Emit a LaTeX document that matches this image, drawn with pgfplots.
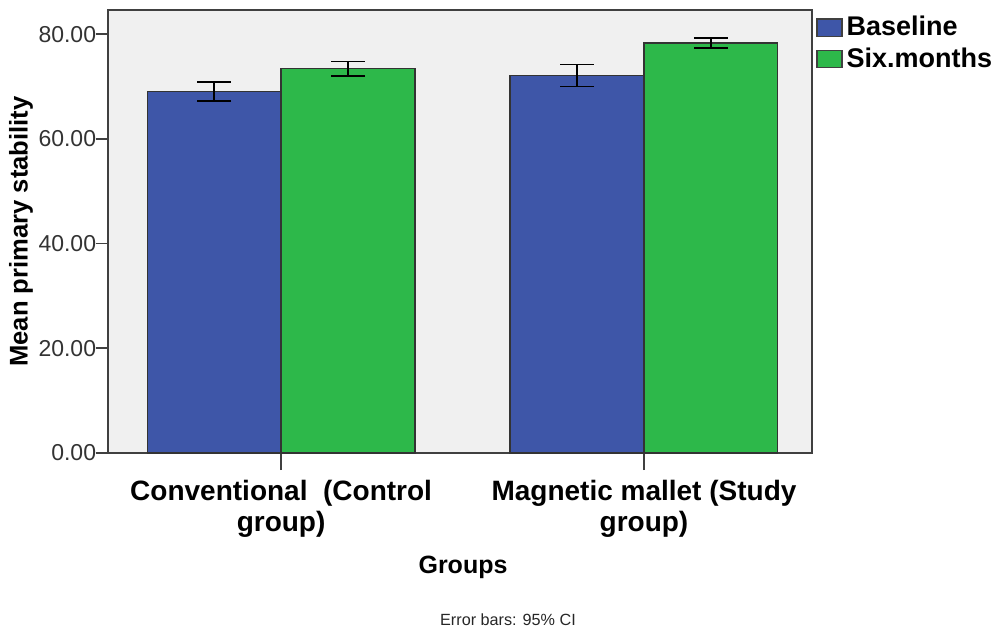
\documentclass[border=0pt]{standalone}
\usepackage{pgfplots}
\pgfplotsset{compat=1.18}
\usepackage{fontspec}
\setmainfont{Liberation Sans}
\definecolor{bgc}{HTML}{F0F0F0}
\definecolor{baseblue}{HTML}{3E56A8}
\definecolor{sixgreen}{HTML}{2DB84A}
\definecolor{framec}{HTML}{404040}
\begin{document}
\begin{tikzpicture}
\begin{axis}[
  name=ax,
  scale only axis,
  width=352pt, height=221.5pt,
  xmin=-0.477, xmax=1.463,
  ymin=0, ymax=84.6,
  axis background/.style={fill=bgc},
  axis line style={color=framec, line width=0.9pt},
  ybar,
  bar width=0.369,
  xtick={0,1},
  xtick pos=bottom, ytick pos=left,
  xticklabels={{Conventional\ \ (Control\\group)},{Magnetic mallet (Study\\group)}},
  xticklabel style={align=center, font=\fontsize{14}{15.5}\selectfont\bfseries, text=black, yshift=-6pt},
  ytick={0,20,40,60,80},
  yticklabel style={font=\fontsize{11.5}{13}\selectfont, text=black!80, inner xsep=1.5pt},
  /pgf/number format/.cd, fixed, fixed zerofill, precision=2, assume math mode=true,
  /pgfplots/.cd,
  tick align=outside,
  xtick style={color=framec, line width=0.8pt, /pgfplots/major tick length=8.5pt},
  ytick style={color=framec, line width=0.8pt, /pgfplots/major tick length=6pt},
  legend style={at={(1,1)}, anchor=north west, xshift=1pt, yshift=0pt, draw=none, fill=none,
    font=\fontsize{13.5}{15}\selectfont\bfseries, row sep=0.5pt, inner sep=1pt,
    /tikz/every even column/.append style={column sep=0pt}},
  legend cell align=left,
  legend image code/.code={\draw[#1, draw=framec, line width=0.6pt] (0pt,-4.3pt) rectangle (12.5pt,4.3pt);},
  error bars/y dir=both,
  error bars/y explicit,
  error bars/error bar style={black, line width=0.8pt},
  error bars/error mark options={rotate=90, mark size=8.5pt, line width=0.8pt, black},
]
\addplot[fill=baseblue, draw=black!80, line width=0.6pt, bar shift=-0.1845]
  coordinates {(0,69.0) +- (0,1.8) (1,72.1) +- (0,2.1)};
\addplot[fill=sixgreen, draw=black!80, line width=0.6pt, bar shift=0.1845]
  coordinates {(0,73.4) +- (0,1.4) (1,78.3) +- (0,0.95)};
\legend{Baseline,Six.months}
\end{axis}
\node[rotate=90, font=\fontsize{12.8}{15}\selectfont\bfseries] at ([xshift=-43.5pt]ax.west) {Mean primary stability};
\node[font=\fontsize{12.5}{14}\selectfont\bfseries] at ([xshift=1.5pt,yshift=-57pt]ax.south) {Groups};
\node[font=\fontsize{8.1}{10}\selectfont, text=black!85] at ([xshift=24pt,yshift=-83.5pt]ax.south) {Error bars: 95\% CI};
\pgfresetboundingbox
\path ([shift={(-54pt,-90.5pt)}]ax.south west) rectangle ([shift={(94pt,5pt)}]ax.north east);
\end{tikzpicture}
\end{document}
